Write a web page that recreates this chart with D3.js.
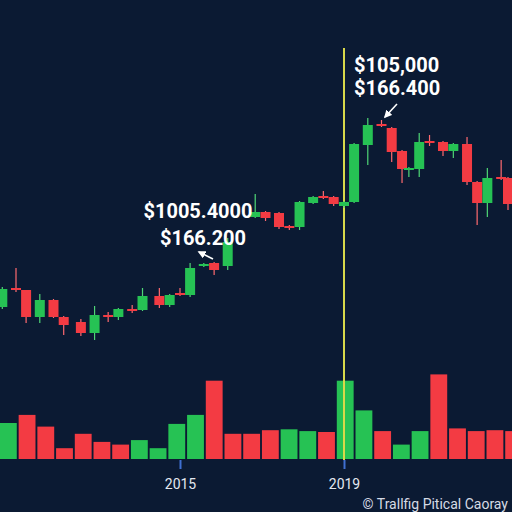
<!DOCTYPE html>
<html>
<head>
  <meta charset="UTF-8">
  <title>Candlestick chart</title>
  <script src="https://d3js.org/d3.v7.min.js"></script>
  <style>
    html, body {
      margin: 0;
      padding: 0;
      background: #0b1a33;
      overflow: hidden;
    }
    svg { display: block; }
    .wick { stroke-width: 1.2px; }
    .note { font: 700 20px Roboto, "Noto Sans", sans-serif; fill: #ffffff; }
    .axis text { font: 14px Roboto, "Noto Sans", sans-serif; fill: #e3e8f0; }
    .axis line { stroke: #3f6fd1; stroke-width: 2px; }
    .credit { font: 14px Roboto, "Noto Sans", sans-serif; fill: #d5dbe5; }
  </style>
</head>
<body>
  <div id="chart"></div>
  <script>
    // candles (monthly stamps, prices in arbitrary units)
    const candleDates = ["2010-09", "2011-01", "2011-04", "2011-08", "2011-12", "2012-03", "2012-08",
      "2012-12", "2013-04", "2013-07", "2013-11", "2014-02", "2014-07", "2014-10", "2015-01",
      "2015-04", "2015-08", "2015-11", "2016-03", "2016-11", "2017-02", "2017-06", "2017-09",
      "2017-12", "2018-04", "2018-07", "2018-10", "2019-01", "2019-04", "2019-08", "2019-12",
      "2020-03", "2020-06", "2020-08", "2020-11", "2021-02", "2021-06", "2021-09", "2022-01",
      "2022-04", "2022-07", "2022-11", "2023-01"];
    const opens  = [93, 112, 110, 83, 100, 83, 78, 67, 85, 83, 91, 90, 104, 95, 107, 105, 134, 137, 134,
      183, 188, 187, 174, 173, 197, 204, 203, 194, 198, 255, 276, 272, 249, 230, 231, 259, 258, 249,
      256, 218, 197, 223, 222];
    const highs  = [113, 132, 110, 106, 101, 84, 81, 94, 88, 92, 95, 112, 112, 106, 112, 137, 137, 138, 162,
      206, 189, 188, 175, 199, 204, 209, 204, 199, 257, 282, 280, 273, 250, 233, 267, 265, 259, 257,
      263, 219, 232, 240, 223];
    const lows   = [91, 108, 77, 77, 82, 65, 64, 60, 78, 80, 87, 89, 92, 93, 104, 103, 133, 125, 130,
      182, 179, 171, 170, 170, 196, 201, 194, 192, 197, 235, 273, 238, 217, 223, 223, 254, 244, 242,
      215, 175, 183, 220, 190];
    const closes = [111, 110, 83, 100, 83, 75, 67, 85, 83, 91, 89, 104, 95, 105, 106, 132, 136, 130, 158,
      188, 182, 173, 173, 198, 203, 203, 196, 198, 256, 275, 275, 248, 231, 232, 258, 257, 249, 256,
      218, 197, 222, 222, 196];

    // volume bars
    const volumes   = [40, 49, 36, 12, 28, 19, 16, 21, 12, 39, 49, 87, 28, 28, 32, 33, 31, 30, 87, 54,
      31, 16, 31, 94, 34, 31, 32, 31];
    const volumeUp  = [1, 0, 0, 0, 0, 0, 0, 1, 1, 1, 1, 0, 0, 0, 0, 1, 1, 0, 1, 1, 0, 1, 1, 0, 0, 0, 0, 0];

    const tickYears = ["2015", "2019"];
    const markerYear = "2019";
    const notes = [
      {lines: ["$1005.4000", "$166.200"], x: [198, 203], y: [218, 245], anchor: "middle",
       arrow: [213, 259, 199, 252]},
      {lines: ["$105,000", "$166.400"], x: [354, 354], y: [72, 95], anchor: "start",
       arrow: [397, 104, 385, 117]}
    ];

    const W = 512, H = 512;
    const green = "#26c254", red = "#f33b43";
    const parseMonth = d3.timeParse("%Y-%m");
    const parseYear = d3.timeParse("%Y");

    const svg = d3.select("#chart").append("svg")
      .attr("width", W).attr("height", H);

    svg.append("rect").attr("width", W).attr("height", H).attr("fill", "#0b1a33");

    const x = d3.scaleTime()
      .domain([parseYear("2015"), parseYear("2019")])
      .range([180, 344]);
    const y = d3.scaleLinear().domain([0, 300]).range([400, 100]);

    const xVol = d3.scaleBand().domain(d3.range(volumes.length))
      .range([-1, 523]).paddingInner(0.1).paddingOuter(0.05);
    const yVol = d3.scaleLinear().domain([0, 100]).range([459, 369]);

    // volume
    svg.append("g").selectAll("rect").data(volumes).join("rect")
      .attr("x", (d, i) => xVol(i))
      .attr("width", xVol.bandwidth())
      .attr("y", d => yVol(d))
      .attr("height", d => yVol(0) - yVol(d))
      .attr("fill", (d, i) => volumeUp[i] ? green : red);

    // marker line
    svg.append("line")
      .attr("x1", x(parseYear(markerYear))).attr("x2", x(parseYear(markerYear)))
      .attr("y1", 48).attr("y2", 460)
      .attr("stroke", "#d8d84a").attr("stroke-width", 2);

    // candles
    const candles = candleDates.map((d, i) => ({
      date: parseMonth(d), o: opens[i], h: highs[i], l: lows[i], c: closes[i]
    }));
    const cw = 10;
    const g = svg.append("g").selectAll("g").data(candles).join("g");
    g.append("line").attr("class", "wick")
      .attr("x1", d => x(d.date)).attr("x2", d => x(d.date))
      .attr("y1", d => y(d.h)).attr("y2", d => y(d.l))
      .attr("stroke", d => d.c >= d.o ? "#4fd676" : "#ff6a70");
    g.append("rect")
      .attr("x", d => x(d.date) - cw / 2)
      .attr("width", cw)
      .attr("y", d => y(Math.max(d.o, d.c)))
      .attr("height", d => Math.max(2, Math.abs(y(d.o) - y(d.c))))
      .attr("fill", d => d.c >= d.o ? green : red);

    // axis
    const axis = svg.append("g").attr("class", "axis")
      .attr("transform", "translate(0,460)")
      .call(d3.axisBottom(x)
        .tickValues(tickYears.map(parseYear))
        .tickFormat(d3.timeFormat("%Y"))
        .tickSize(9).tickPadding(10));
    axis.select(".domain").remove();

    // notes
    svg.append("defs").append("marker")
      .attr("id", "head").attr("viewBox", "0 0 10 10")
      .attr("refX", 8).attr("refY", 5)
      .attr("markerWidth", 5).attr("markerHeight", 5)
      .attr("orient", "auto")
      .append("path").attr("d", "M0,0L10,5L0,10z").attr("fill", "#fff");

    notes.forEach(n => {
      n.lines.forEach((t, i) => {
        svg.append("text").attr("class", "note")
          .attr("x", n.x[i]).attr("y", n.y[i])
          .attr("text-anchor", n.anchor)
          .text(t);
      });
      svg.append("line")
        .attr("x1", n.arrow[0]).attr("y1", n.arrow[1])
        .attr("x2", n.arrow[2]).attr("y2", n.arrow[3])
        .attr("stroke", "#fff").attr("stroke-width", 1.6)
        .attr("marker-end", "url(#head)");
    });

    svg.append("text").attr("class", "credit")
      .attr("x", 508).attr("y", 509)
      .attr("text-anchor", "end")
      .text("© Trallfig Pitical Caoray");
  </script>
</body>
</html>
